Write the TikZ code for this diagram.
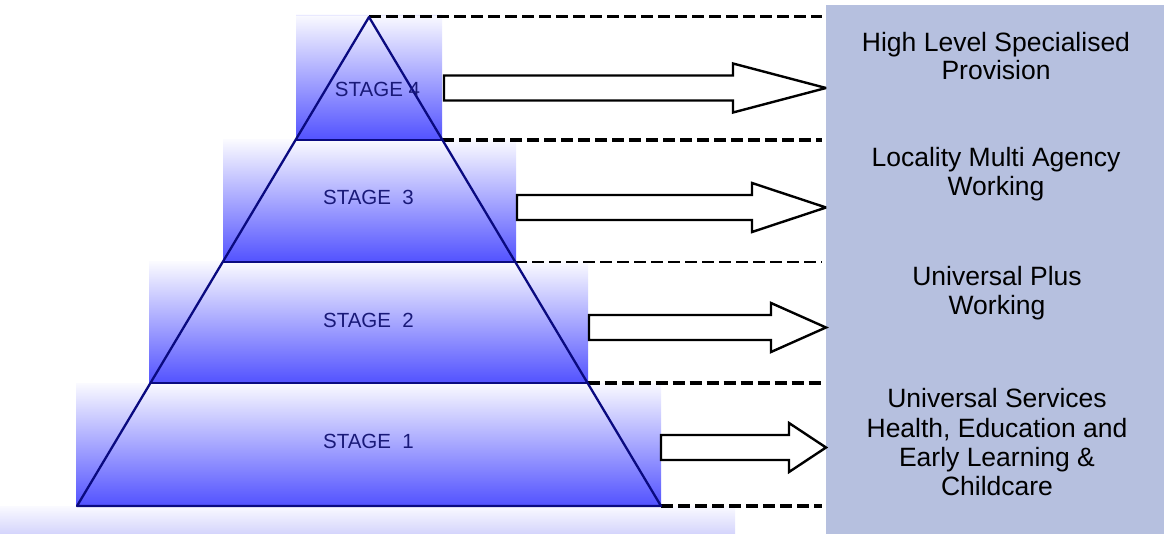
\documentclass[tikz,border=0pt]{standalone}
\usepackage{fontspec}
\setmainfont{Liberation Sans}
\definecolor{pyrline}{RGB}{10,10,128}
\definecolor{stagetext}{RGB}{25,25,120}
\definecolor{gradtop}{RGB}{250,250,255}
\definecolor{gradbot}{RGB}{82,82,255}
\definecolor{stripbot}{RGB}{212,212,252}
\definecolor{panel}{RGB}{182,192,223}
\tikzset{
  stagebox/.style={top color=gradtop, bottom color=gradbot, draw=none},
  pyr/.style={draw=pyrline, line width=2.3pt, line join=round},
  stagelabel/.style={anchor=base, inner sep=0pt, text=stagetext, font=\fontsize{20.5}{24}\selectfont},
  rtext/.style={anchor=base, inner sep=0pt, text=black, font=\fontsize{26.5}{29}\selectfont},
  levelline/.style={draw=black, dash pattern=on 12pt off 5pt},
  blockarrow/.style={draw=black, fill=white, line width=2.4pt, line join=miter, miter limit=3}
}
\begin{document}
\begin{tikzpicture}[x=1pt,y=-1pt]
\useasboundingbox (0,0) rectangle (1164,534);
% right panel
\fill[panel] (826,5) rectangle (1164,534);
% gradient boxes
\shade[stagebox] (296,15) rectangle (442,140);
\shade[stagebox] (223,140) rectangle (516,262);
\shade[stagebox] (149,262) rectangle (588,383);
\shade[stagebox] (76,383) rectangle (661,506);
\shade[top color=gradtop, bottom color=stripbot] (0,506) rectangle (735,534);
\draw[draw=gradtop!70!gradbot!40, line width=0.6pt] (296,15.5) -- (442,15.5);
% pyramid coordinates
\coordinate (apex) at (369,17);
\coordinate (BL) at (77,506);
\coordinate (BR) at (661,506);
\coordinate (L4) at (295.6,140); \coordinate (R4) at (442.4,140);
\coordinate (L3) at (222.7,262); \coordinate (R3) at (515.3,262);
\coordinate (L2) at (150.4,383); \coordinate (R2) at (587.6,383);
% dashed level lines
\coordinate (E0) at (822,17);
\coordinate (E4) at (822,140);
\coordinate (E3) at (822,262);
\coordinate (E2) at (822,383);
\coordinate (E1) at (822,506);
\draw[levelline, line width=3pt] (apex) -- (E0);
\draw[levelline, line width=3.6pt] (R4) -- (E4);
\draw[levelline, line width=2.6pt] (R3) -- (E3);
\draw[levelline, line width=3.6pt] (R2) -- (E2);
\draw[levelline, line width=3.6pt] (BR) -- (E1);
% pyramid outline
\draw[pyr] (apex) -- (BL) -- (BR) -- cycle;
\draw[pyr] (L4) -- (R4);
\draw[pyr] (L3) -- (R3);
\draw[pyr] (L2) -- (R2);
% stage labels
\node[stagelabel] (s4) at (377.5,97) {STAGE 4};
\node[stagelabel] (s3) at (368.5,205) {STAGE\ \ 3};
\node[stagelabel] (s2) at (368.5,328) {STAGE\ \ 2};
\node[stagelabel] (s1) at (368.5,448) {STAGE\ \ 1};
% block arrows
\foreach \t/\h/\c in {444/733/88, 517/752/207.5, 589/771/327.5, 661/789/447.5}{
  \draw[blockarrow] (\t,\c-12.5) -- (\h,\c-12.5) -- (\h,\c-24.5) -- (826,\c)
     -- (\h,\c+24.5) -- (\h,\c+12.5) -- (\t,\c+12.5) -- cycle;
}
% right texts
\node[rtext] (t4a) at (996,52) {High Level Specialised};
\node[rtext] (t4b) at (996,80) {Provision};
\node[rtext] (t3a) at (996,167) {Locality Multi Agency};
\node[rtext] (t3b) at (996,196) {Working};
\node[rtext] (t2a) at (997,286) {Universal Plus};
\node[rtext] (t2b) at (997,315) {Working};
\node[rtext] (t1a) at (997,407) {Universal Services};
\node[rtext] (t1b) at (997,437) {Health, Education and};
\node[rtext] (t1c) at (997,466) {Early Learning \&};
\node[rtext] (t1d) at (997,495) {Childcare};
\end{tikzpicture}
\end{document}
